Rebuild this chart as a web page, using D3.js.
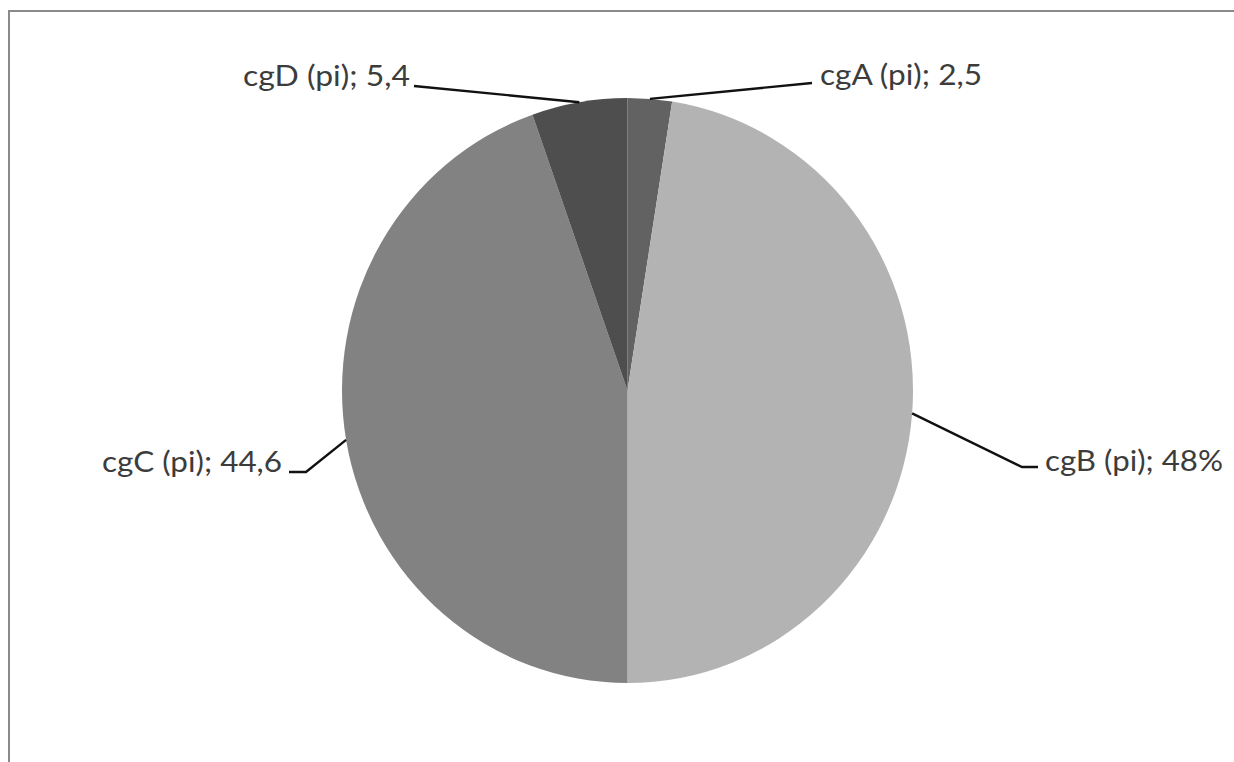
<!DOCTYPE html>
<html><head><meta charset="utf-8">
<script src="https://cdn.jsdelivr.net/npm/d3@7"></script>
<style>html,body{margin:0;padding:0;background:#fff;}svg{display:block;}</style>
</head><body>
<script>
// data
const categories = ["cgA (pi)", "cgB (pi)", "cgC (pi)", "cgD (pi)"];
const values = [2.5, 47.5, 44.6, 5.4];
const valueLabels = ["2,5", "48%", "44,6", "5,4"];
const colors = ["#626262", "#b3b3b3", "#828282", "#4e4e4e"];

const W = 1234, H = 762;
const cx = 627.5, cy = 390.5, r = 285.5, yScale = 292.5 / 285.5;

// label layout (elbow point, end point, text start x, baseline y, text width)
const labelLayout = [
  {elbow: [812, 83], end: [812, 83], tx: 820, ty: 85, len: 162},
  {elbow: [1022, 467], end: [1038, 467], tx: 1045, ty: 471, len: 178},
  {elbow: [306, 472], end: [289, 472], tx: 102, ty: 472, len: 180},
  {elbow: [414, 86], end: [414, 86], tx: 243, ty: 86, len: 167}
];

const svg = d3.select("body").append("svg").attr("width", W).attr("height", H);

// frame
svg.append("rect").attr("x", 9).attr("y", 11).attr("width", W + 20).attr("height", H + 20)
  .attr("fill", "none").attr("stroke", "#8a8a8a").attr("stroke-width", 2);

const pie = d3.pie().sort(null).value(d => d.v);
const data = categories.map((c, i) => ({c, v: values[i], lab: valueLabels[i], col: colors[i]}));
const arcs = pie(data);
const arc = d3.arc().innerRadius(0).outerRadius(r);

const g = svg.append("g").attr("transform", `translate(${cx},${cy}) scale(1,${yScale})`);
g.selectAll("path").data(arcs).enter().append("path")
  .attr("d", arc).attr("fill", d => d.data.col);

// leader lines + labels
arcs.forEach((a, i) => {
  const mid = (a.startAngle + a.endAngle) / 2;
  const sx = cx + r * Math.sin(mid);
  const sy = cy - r * Math.cos(mid) * yScale;
  const L = labelLayout[i];
  svg.append("polyline")
    .attr("points", [[sx, sy], L.elbow, L.end].map(p => p.join(",")).join(" "))
    .attr("fill", "none").attr("stroke", "#111").attr("stroke-width", 2.4);
  svg.append("text")
    .attr("x", L.tx).attr("y", L.ty)
    .attr("text-anchor", "start")
    .attr("textLength", L.len).attr("lengthAdjust", "spacingAndGlyphs")
    .attr("font-family", "Lato, 'Open Sans', sans-serif")
    .attr("font-size", 28).attr("fill", "#3c3c3c")
    .text(`${a.data.c}; ${a.data.lab}`);
});
</script>
</body></html>
